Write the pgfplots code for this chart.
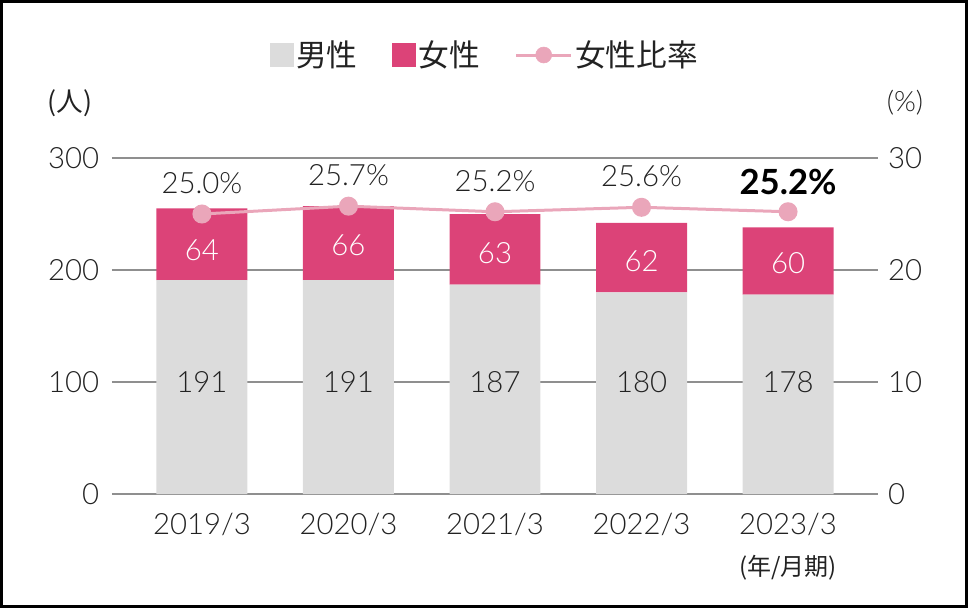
\documentclass[border=0pt]{standalone}
\usepackage{fontspec}
\setmainfont{Lato}[UprightFont={* Light}, BoldFont={* Bold}]
\newfontfamily\cjk{Noto Sans CJK JP}
\usepackage{pgfplots}
\pgfplotsset{compat=1.18}
\definecolor{malec}{HTML}{DCDCDC}
\definecolor{femc}{HTML}{DC4378}
\definecolor{ratec}{HTML}{EAA6BA}
\definecolor{gridc}{HTML}{8F8F8F}
\definecolor{txtc}{HTML}{222222}

\pgfplotstableread{
x male female
0 191 64
1 191 66
2 187 63
3 180 62
4 178 60
}\bars

\pgfplotstableread{
x rate
0 25.0
1 25.7
2 25.2
3 25.6
4 25.2
}\ratio

\pgfplotsset{
  common/.style={
    at={(0,0)}, anchor=south west,
    scale only axis, width=574.5pt, height=252pt,
    xmin=-0.614, xmax=4.614,
    /pgf/number format/assume math mode=true,
  }
}

\begin{document}
\begin{tikzpicture}
\useasboundingbox (-84pt,-85.5pt) rectangle (642pt,370.5pt);
\draw[black, line width=2pt] (-83pt,-84.5pt) rectangle (641pt,369.5pt);

% bars (left axis)
\begin{axis}[common,
  ymin=0, ymax=300,
  ybar stacked, bar width=0.621,
  separate axis lines,
  axis x line=bottom, axis y line=left,
  axis line style={draw=none},
  tick style={draw=none},
  xtick={0,1,2,3,4},
  xticklabels={2019/3,2020/3,2021/3,2022/3,2023/3},
  ytick={0,100,200,300},
  ymajorgrids, grid style={gridc, line width=1.1pt},
  yticklabel style={font=\fontsize{22}{22}\selectfont, text=txtc, xshift=-4pt},
  xticklabel style={font=\fontsize{22}{22}\selectfont, text=txtc, yshift=-9pt},
  legend style={at={(0.487,1.3065)}, anchor=center, draw=none, fill=none,
    legend columns=3, font=\cjk\fontsize{23}{23}\selectfont, text=txtc,
    /tikz/every even column/.append style={column sep=24pt},
    legend cell align=left},
]
\addplot[fill=malec, draw=none,
  legend image code/.code={\fill[malec] (0pt,-9pt) rectangle (18pt,9pt);}]
  table[x=x, y=male] {\bars};
\addplot[fill=femc, draw=none,
  legend image code/.code={\fill[femc] (0pt,-9pt) rectangle (18pt,9pt);}]
  table[x=x, y=female] {\bars};
\addlegendimage{legend image code/.code={
  \draw[ratec, line width=2.25pt] (0pt,0pt) -- (41pt,0pt);
  \fill[ratec] (20.5pt,0pt) circle (6pt);}}
\legend{男性, 女性, 女性比率}
\end{axis}

% value labels
\begin{axis}[common, ymin=0, ymax=300, hide axis]
\addplot[draw=none, mark=none, nodes near coords, point meta=explicit symbolic,
  every node near coord/.style={anchor=center, text=txtc, font=\fontsize{22}{22}\selectfont}]
  table[x=x, y=y, meta=l] {
x y l
0 100 191
1 100 191
2 100 187
3 100 180
4 100 178
};
\addplot[draw=none, mark=none, nodes near coords, point meta=explicit symbolic,
  every node near coord/.style={anchor=center, text=white, font=\fontsize{22}{22}\selectfont}]
  table[x=x, y=y, meta=l] {
x y l
0 218 64
1 222 66
2 215 63
3 208 62
4 206 60
};
\end{axis}

% ratio (right axis)
\begin{axis}[common,
  ymin=0, ymax=30,
  axis y line*=right, axis x line=none,
  axis line style={draw=none}, tick style={draw=none},
  ytick={0,10,20,30},
  yticklabel style={font=\fontsize{22}{22}\selectfont, text=txtc, xshift=4pt},
]
\addplot[ratec, line width=2.25pt, mark=*, mark size=6pt,
  mark options={fill=ratec, draw=none}]
  table[x=x, y=rate] {\ratio};
\addplot[draw=none, mark=none, nodes near coords, point meta=explicit symbolic,
  every node near coord/.style={anchor=center, yshift=23pt, text=txtc, font=\fontsize{22}{22}\selectfont}]
  table[x=x, y=y, meta=l] {
x y l
0 25.0 25.0\%
1 25.7 25.7\%
2 25.2 25.2\%
3 25.6 25.6\%
};
\addplot[draw=none, mark=none, nodes near coords, point meta=explicit symbolic,
  every node near coord/.style={anchor=center, yshift=22pt, text=black, font=\fontsize{26}{26}\selectfont\bfseries}]
  table[x=x, y=y, meta=l] {
x y l
4 25.2 25.2\%
};
\end{axis}

\node[text=txtc, font=\cjk\fontsize{20}{20}\selectfont] at (-31.5pt,293.25pt) {(人)};
\node[text=txtc, font=\fontsize{21}{21}\selectfont] at (594.75pt,293.25pt) {(\%)};
\node[text=txtc, font=\cjk\fontsize{18}{18}\selectfont] at (507pt,-55pt) {(年/月期)};
\end{tikzpicture}
\end{document}
